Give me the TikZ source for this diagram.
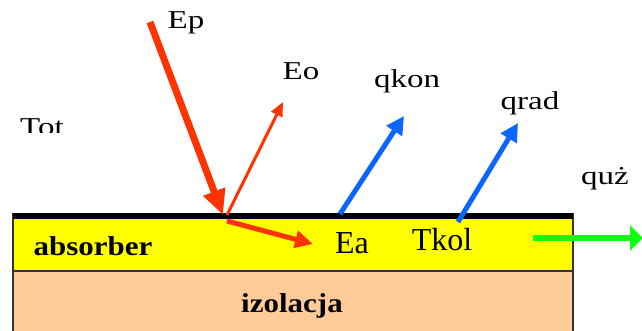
\documentclass[tikz,border=0pt]{standalone}
\usepackage{fontspec}
\usepackage{graphicx}
\setmainfont{Liberation Serif}
\usetikzlibrary{arrows.meta}
\definecolor{redarr}{HTML}{FF3300}
\definecolor{bluearr}{HTML}{0A66FF}
\definecolor{greenarr}{HTML}{11FF11}
\definecolor{absyellow}{HTML}{FFFF00}
\definecolor{peach}{HTML}{FFCC99}
\newcommand{\toplab}[1]{\fontsize{33}{33}\selectfont\scalebox{1}[0.78]{#1}}
\begin{document}
\begin{tikzpicture}[x=1pt,y=-1pt,
  lab/.style={anchor=base,inner sep=0pt,font=\fontsize{32}{32}\selectfont},
  boldlab/.style={anchor=base,inner sep=0pt,font=\fontsize{31}{31}\selectfont\bfseries},
  layer/.style={draw=black!80,line width=1.3pt},
  redthick/.style={draw=redarr,line width=7pt,-{Triangle[length=25pt,width=22pt]}},
  redthin/.style={draw=redarr,line width=3pt,-{Triangle[length=14pt,width=12pt]}},
  redmid/.style={draw=redarr,line width=5pt,-{Triangle[length=18pt,width=17pt]}},
  bluearrow/.style={draw=bluearr,line width=5pt,-{Triangle[length=18pt,width=18pt]}},
  greenarrow/.style={draw=greenarr,line width=6pt,-{Triangle[length=13pt,width=25pt]}}]
\useasboundingbox (0,0) rectangle (642,331);
% layers
\fill[peach] (13,271) rectangle (573,335);
\draw[layer] (13,335) -- (13,271) -- (573,271) -- (573,335);
\filldraw[layer,fill=absyellow] (13,214) rectangle (573,271);
\fill[black] (13,213) rectangle (573,219);
% coordinates
\coordinate (epS) at (150,22);
\coordinate (hit) at (223,215);
\coordinate (eoS) at (227,215);
\coordinate (eoE) at (283,102);
\coordinate (eaS) at (227,221);
\coordinate (eaE) at (313,244);
\coordinate (qkS) at (340,214);
\coordinate (qkE) at (404,116);
\coordinate (qrS) at (458,222);
\coordinate (qrE) at (518,123);
\coordinate (quS) at (533,238);
\coordinate (quE) at (643,238);
% arrows
\draw[redthick] (epS) -- (hit);
\draw[redthin] (eoS) -- (eoE);
\draw[redmid] (eaS) -- (eaE);
\draw[bluearrow] (qkS) -- (qkE);
\draw[bluearrow] (qrS) -- (qrE);
\draw[greenarrow] (quS) -- (quE);
% labels
\node[lab] (ep) at (186,29) {\toplab{Ep}};
\node[lab] (eo) at (301,80) {\toplab{Eo}};
\node[lab] (qkon) at (407,88) {\toplab{qkon}};
\node[lab] (qrad) at (530,110) {\toplab{qrad}};
\node[lab] (quz) at (605,185) {\toplab{quż}};
\begin{scope}
\clip (0,100) rectangle (120,133);
\node[lab] (tot) at (42,136) {\toplab{Tot}};
\end{scope}
\node[lab] (ea) at (352,253) {Ea};
\node[lab] (tkol) at (442,250) {Tkol};
\node[boldlab] (absorber) at (93,255) {\scalebox{1}[0.88]{absorber}};
\node[boldlab] (izolacja) at (292,312) {\scalebox{1}[0.88]{izolacja}};
\end{tikzpicture}
\end{document}
